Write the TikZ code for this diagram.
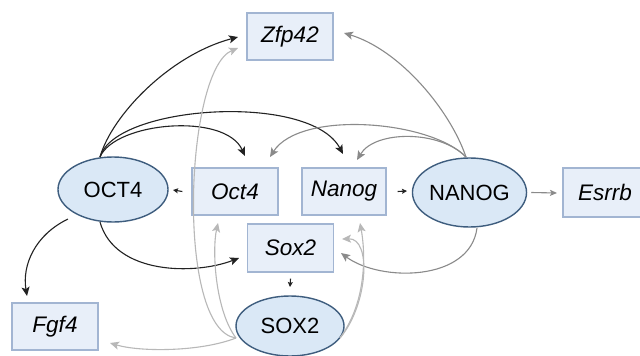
\documentclass[tikz,border=0pt]{standalone}
\usepackage{fontspec}
\setmainfont{Liberation Sans}
\usetikzlibrary{arrows.meta,shapes.geometric}
\definecolor{boxfill}{HTML}{E8EFF9}
\definecolor{boxline}{HTML}{A2B5D2}
\definecolor{ellfill}{HTML}{DAE8F6}
\definecolor{ellline}{HTML}{3E5D7E}
\definecolor{darkarr}{HTML}{222222}
\definecolor{midarr}{HTML}{8A8A8A}
\definecolor{lightarr}{HTML}{B8B8B8}
\tikzset{
  gene/.style={draw=boxline, fill=boxfill, line width=1.2pt, rectangle,
    minimum width=86pt, minimum height=47pt, inner sep=0pt,
    font=\fontsize{22.5}{25}\selectfont\itshape},
  prot/.style={draw=ellline, fill=ellfill, line width=1.4pt, ellipse,
    inner sep=0pt, font=\fontsize{22}{25}\selectfont},
  conn/.style={line width=1.1pt, -{Stealth[length=9pt,width=8pt,inset=2pt]}},
  shortarr/.style={line width=1.1pt, -{Stealth[length=5pt,width=5pt,inset=1pt]}},
  blk/.style={conn, draw=darkarr},
  gry/.style={conn, draw=midarr},
  lgr/.style={conn, draw=lightarr},
}
\begin{document}
\begin{tikzpicture}[x=1pt,y=-1pt]
\useasboundingbox[fill=white] (0,0) rectangle (640,356);
% nodes
\node[gene] (zfp) at (290,36.5) {Zfp42};
\node[gene] (oct4g) at (235,191.5) {Oct4};
\node[gene, minimum width=84pt] (nanogg) at (344,191.5) {Nanog};
\node[gene, minimum height=48pt] (sox2g) at (290.5,248) {Sox2};
\node[gene] (fgf4) at (55,326.5) {Fgf4};
\node[gene, minimum width=84pt, minimum height=49pt] (esrrb) at (605,192.5) {Esrrb};
\node[prot, minimum width=110pt, minimum height=65pt] (OCT4) at (113,189.5) {OCT4};
\node[prot, minimum width=113pt, minimum height=69pt] (NANOG) at (469.5,192.5) {NANOG};
\node[prot, minimum width=108pt, minimum height=60pt] (SOX2) at (290,326) {SOX2};
% anchor coordinates
\coordinate (ot) at (100,157);
\coordinate (nt) at (466,157);
\coordinate (sl) at (236,338);
\coordinate (sr) at (340,338);
% OCT4 outputs (black)
\draw[blk] (ot) .. controls (112,115) and (170,55) .. (238,37);
\draw[blk] (ot) .. controls (115,122) and (225,112) .. (245,156);
\draw[blk] (ot) .. controls (115,105) and (310,92) .. (343,154);
\draw[blk] (68,219) .. controls (35,235) and (22,265) .. (27,296);
\draw[blk] (100,222) .. controls (115,275) and (195,275) .. (239,258);
% NANOG outputs (gray)
\draw[gry] (nt) .. controls (450,110) and (400,50) .. (344,33);
\draw[gry] (nt) .. controls (430,120) and (300,110) .. (270,157);
\draw[gry] (nt) .. controls (440,130) and (375,130) .. (357,160);
\draw[gry] (477,228) .. controls (470,282) and (380,282) .. (341,253);
% SOX2 outputs (light gray)
\draw[lgr] (sl) .. controls (175,330) and (185,70) .. (238,48);
\draw[lgr] (sl) .. controls (215,310) and (212,250) .. (218,223);
\draw[lgr] (sl) .. controls (200,352) and (140,352) .. (110,343);
\draw[lgr] (sr) .. controls (368,305) and (372,238) .. (342,239);
\draw[lgr] (sr) .. controls (368,300) and (365,250) .. (360,223);
% short arrows
\draw[shortarr, draw=darkarr] (oct4g.west) ++(-9,0) -- (173,190);
\draw[shortarr, draw=darkarr] (nanogg.east) ++(11,0) -- (407,191);
\draw[shortarr, draw=darkarr] (sox2g.south) ++(0,6) -- (290,287);
\draw[conn, draw=midarr, -{Stealth[length=7pt,width=6pt,inset=1.5pt]}] (NANOG.east) ++(4,0) -- (557,193);
\end{tikzpicture}
\end{document}
